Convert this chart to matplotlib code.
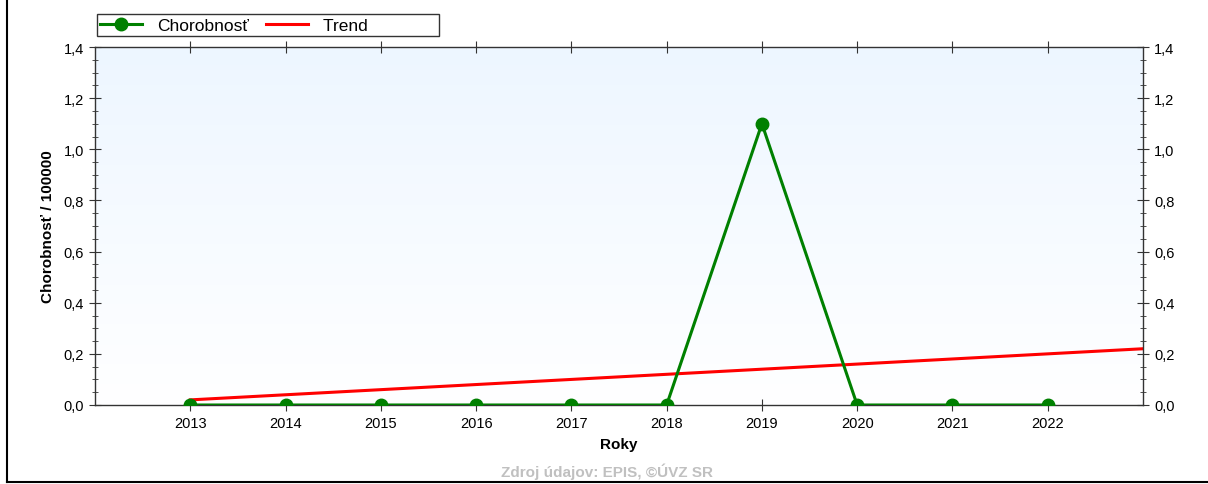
import matplotlib.pyplot as plt
import numpy as np
from matplotlib.ticker import MultipleLocator, FuncFormatter

years = [2013, 2014, 2015, 2016, 2017, 2018, 2019, 2020, 2021, 2022]
chorobnost = [0.0, 0.0, 0.0, 0.0, 0.0, 0.0, 1.10, 0.0, 0.0, 0.0]
trend_years = [2013, 2023]
trend_vals = [0.02, 0.22]

plt.rcParams['font.family'] = ['Liberation Sans', 'DejaVu Sans']

fig = plt.figure(figsize=(12.08, 4.85), dpi=100)
W, H = 1208, 485
ax = fig.add_axes([95 / W, 1 - 406 / H, (1143 - 95) / W, (406 - 48) / H])

# light blue gradient background
grad = np.linspace(0, 1, 256).reshape(-1, 1)
top = np.array([0.93, 0.965, 1.0])
bot = np.array([1.0, 1.0, 1.0])
img = top * (1 - grad[..., None]) + bot * grad[..., None]
ax.imshow(img, extent=[2012, 2023, 0, 1.4], aspect='auto', zorder=0)

tr, = ax.plot(trend_years, trend_vals, color='#ff0000', lw=2.2, zorder=2)
ch, = ax.plot(years, chorobnost, color='#008000', lw=2.2, marker='o', ms=9,
              zorder=3, clip_on=True)

ax.set_xlim(2012, 2023)
ax.set_ylim(0, 1.4)
ax.set_xticks(years)
ax.yaxis.set_major_locator(MultipleLocator(0.2))
ax.yaxis.set_minor_locator(MultipleLocator(0.05))
fmt = FuncFormatter(lambda v, p: f'{v:.1f}'.replace('.', ','))
ax.yaxis.set_major_formatter(fmt)

for s in ax.spines.values():
    s.set_color('#333333')
    s.set_linewidth(1)

ax.tick_params(axis='x', direction='inout', length=8, top=True, labelsize=10.5,
               color='#333333', pad=4)
ax.tick_params(axis='y', which='major', direction='inout', length=9, right=True,
               labelright=True, labelsize=10.5, color='#333333')
ax.tick_params(axis='y', which='minor', direction='inout', length=5, right=True, color='#333333')

ax.set_xlabel('Roky', fontweight='bold', fontsize=11, labelpad=5)
ax.set_ylabel('Chorobnosť / 100000', fontweight='bold', fontsize=11, labelpad=6)

leg = fig.legend([ch, tr], ['Chorobnosť', 'Trend              '], loc='upper left',
                 bbox_to_anchor=(97 / W, 1 - 15 / H), ncol=2, fontsize=12.5,
                 frameon=True, fancybox=False, edgecolor='black',
                 borderpad=0.2, handlelength=2.4, columnspacing=1.0,
                 handletextpad=0.85, borderaxespad=0)
leg.get_frame().set_linewidth(1)

fig.text(607 / W, 1 - 472 / H, 'Zdroj údajov: EPIS, ©ÚVZ SR', ha='center', va='center',
         color='#c0c0c0', fontweight='bold', fontsize=11)

# outer frame (left and bottom visible)
fig.add_artist(plt.Line2D([7 / W, 7 / W], [1 - 483 / H, 1], transform=fig.transFigure,
                          color='black', lw=1.5))
fig.add_artist(plt.Line2D([7 / W, 1], [1 - 483 / H, 1 - 483 / H], transform=fig.transFigure,
                          color='black', lw=1.5))

fig.savefig('out.png', dpi=100)
